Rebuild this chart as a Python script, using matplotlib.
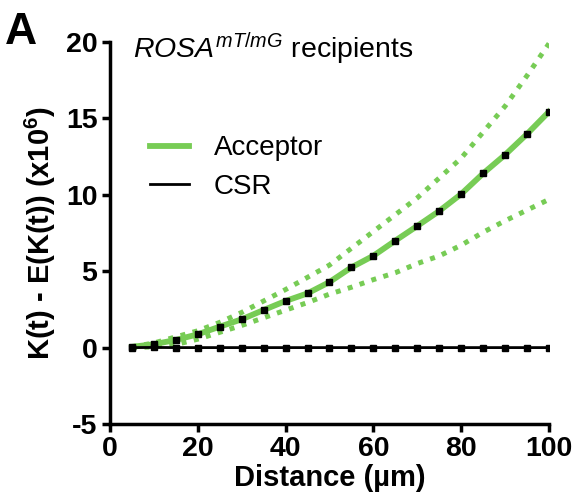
import matplotlib
matplotlib.use("Agg")
import matplotlib.pyplot as plt

plt.rcParams["font.family"] = ["Liberation Sans", "DejaVu Sans"]
plt.rcParams["mathtext.fontset"] = "custom"
plt.rcParams["mathtext.rm"] = "Liberation Sans"
plt.rcParams["mathtext.it"] = "Liberation Sans:italic"
plt.rcParams["mathtext.bf"] = "Liberation Sans:bold"
plt.rcParams["axes.unicode_minus"] = False

# distance (um)
distance = [5, 10, 15, 20, 25, 30, 35, 40, 45, 50, 55, 60, 65, 70, 75, 80, 85, 90, 95, 100]
# K(t) - E(K(t)) (x10^6)
acceptor = [0.05, 0.22, 0.50, 0.87, 1.37, 1.85, 2.46, 3.05, 3.55, 4.29, 5.25, 6.01,
            7.00, 7.96, 8.94, 10.05, 11.40, 12.62, 13.98, 15.44]
acceptor_hi = [0.05, 0.30, 0.70, 1.10, 1.65, 2.30, 3.05, 3.80, 4.60, 5.40, 6.50, 7.60,
               8.70, 9.80, 11.10, 12.40, 14.10, 15.80, 17.80, 19.90]
acceptor_lo = [0.00, 0.05, 0.20, 0.55, 1.00, 1.45, 1.95, 2.45, 2.95, 3.50, 3.95, 4.45,
               4.90, 5.50, 6.00, 6.70, 7.55, 8.30, 9.00, 9.70]
csr = [0.0, 0.01, 0.0, 0.0, 0.0, 0.0, 0.0, 0.0, 0.0, 0.0, 0.0, 0.0,
       0.0, 0.0, 0.0, 0.0, 0.0, 0.0, 0.0, 0.0]

green = "#77cc55"

fig = plt.figure(figsize=(5.77, 4.98), dpi=100)
ax = fig.add_axes([0.1906, 0.1486, 0.7609, 0.7671])

ax.plot(distance, acceptor_hi, color=green, lw=3.6, linestyle=(0, (1, 1.5)),
        dash_capstyle="butt")
ax.plot(distance, acceptor_lo, color=green, lw=3.6, linestyle=(0, (1, 1.5)),
        dash_capstyle="butt")
ax.plot(distance, acceptor, color=green, lw=4.2, label="Acceptor", zorder=3)
ax.plot(distance, csr, color="black", lw=2, label="CSR", zorder=3)
ax.plot(distance, acceptor, linestyle="none", marker="s", ms=4, color="black", zorder=4)
ax.plot(distance, csr, linestyle="none", marker="s", ms=4, color="black", zorder=4)

ax.set_xlim(0, 100)
ax.set_ylim(-5, 20)
ax.set_xticks([0, 20, 40, 60, 80, 100])
ax.set_yticks([-5, 0, 5, 10, 15, 20])

for side in ["top", "right"]:
    ax.spines[side].set_visible(False)
for side in ["left", "bottom"]:
    ax.spines[side].set_linewidth(2.5)
ax.tick_params(width=2.5, length=6, labelsize=20.5, pad=3)
for lab in ax.get_xticklabels() + ax.get_yticklabels():
    lab.set_fontweight("bold")

ax.set_xlabel("Distance (µm)", fontsize=21, fontweight="bold", labelpad=1)
ax.set_ylabel(r"K(t) - E(K(t)) (x10$^{\mathbf{6}}$)", fontsize=21, fontweight="bold",
              labelpad=6)

ax.text(0.052, 1.03, r"$\it{ROSA}^{\it{mT/mG}}$ recipients", transform=ax.transAxes,
        fontsize=20.5, va="top", ha="left")

ax.legend(loc="upper left", bbox_to_anchor=(0.065, 0.785), frameon=False, fontsize=20,
          handlelength=1.4, handletextpad=0.9, labelspacing=0.45, borderaxespad=0)

fig.text(0.008, 0.975, "A", fontsize=32, fontweight="bold", va="top", ha="left")

fig.savefig("out.png", dpi=100)
